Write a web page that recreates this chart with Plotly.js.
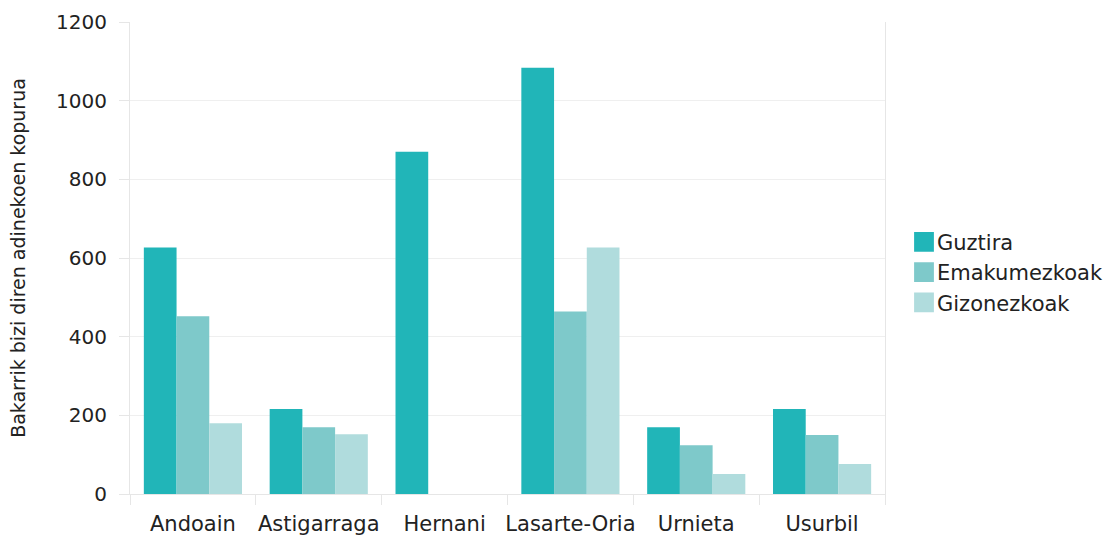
<!DOCTYPE html>
<html>
<head>
<meta charset="utf-8">
<script src="https://cdn.plot.ly/plotly-3.0.1.min.js"></script>
<style>html,body{margin:0;padding:0;background:#fff;}#chart{width:1115px;height:538px;}</style>
</head>
<body>
<div id="chart"></div>
<script>
const categories = ["Andoain", "Astigarraga", "Hernani", "Lasarte-Oria", "Urnieta", "Usurbil"];
const guztira = [627, 216, 870, 1084, 170, 216];
const emakumezkoak = [452, 170, null, 464, 124, 150];
const gizonezkoak = [180, 152, null, 627, 51, 76];
const seriesNames = ["Guztira", "Emakumezkoak", "Gizonezkoak"];
const seriesColors = ["#21b5b8", "#7ec9ca", "#b0dcdd"];
const yTicks = [0, 200, 400, 600, 800, 1000, 1200];

const seriesValues = [guztira, emakumezkoak, gizonezkoak];
const traces = seriesValues.map((vals, i) => ({
  type: "bar",
  name: seriesNames[i],
  x: categories,
  y: vals,
  marker: { color: seriesColors[i] },
  hoverinfo: "x+y+name"
}));

const FONT = "DejaVu Sans, Liberation Sans, Arial, sans-serif";
const layout = {
  width: 1115,
  height: 538,
  margin: { l: 130, r: 230, t: 22, b: 44, autoexpand: false },
  paper_bgcolor: "#ffffff",
  plot_bgcolor: "#ffffff",
  font: { family: FONT, color: "#222222", size: 20 },
  barmode: "group",
  bargap: 0.22,
  bargroupgap: 0,
  xaxis: {
    type: "category",
    showgrid: false,
    showline: true,
    linecolor: "#e6e6e6",
    ticks: "outside",
    tickson: "boundaries",
    ticklen: 10,
    tickcolor: "#e6e6e6",
    tickangle: 0,
    ticklabelstandoff: 11,
    tickfont: { family: FONT, size: 21, color: "#222222" },
    zeroline: false
  },
  yaxis: {
    range: [0, 1200],
    tickvals: yTicks,
    ticktext: yTicks.map(String),
    showgrid: true,
    gridcolor: "#efefef",
    showline: true,
    linecolor: "#e6e6e6",
    mirror: true,
    ticks: "outside",
    ticklen: 10,
    tickcolor: "#e6e6e6",
    ticklabelstandoff: 8,
    zeroline: false,
    tickfont: { family: FONT, size: 20, color: "#222222" },
    title: { text: "Bakarrik bizi diren adinekoen kopurua", font: { family: FONT, size: 19, color: "#222222" }, standoff: 25 }
  },
  legend: {
    x: (897 - 130) / 755,
    xanchor: "left",
    y: 0.47,
    yanchor: "middle",
    font: { family: FONT, size: 21, color: "#222222" },
    itemwidth: 30,
    tracegroupgap: 0
  },
  showlegend: true
};

Plotly.newPlot("chart", traces, layout, { displayModeBar: false, staticPlot: true }).then(function (gd) {
  gd.querySelectorAll(".legendpoints path").forEach(function (p) {
    const t = p.getAttribute("transform") || "";
    p.setAttribute("transform", t + " translate(7,0) scale(1.65)");
  });
});
</script>
</body>
</html>
